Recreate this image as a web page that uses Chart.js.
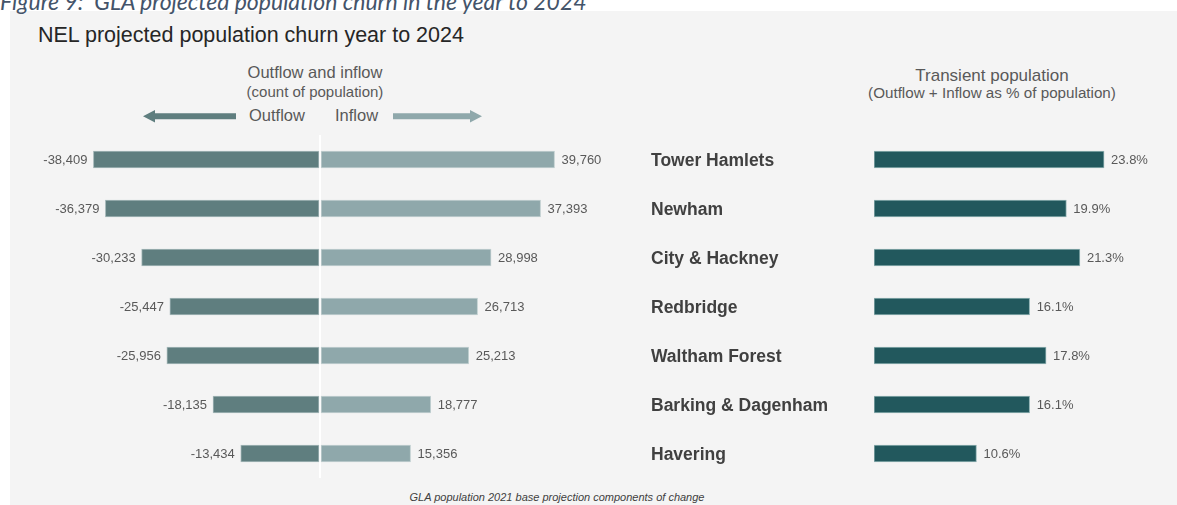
<!DOCTYPE html>
<html>
<head>
<meta charset="utf-8">
<script src="https://cdn.jsdelivr.net/npm/chart.js@4.4.1/dist/chart.umd.min.js"></script>
<style>
  html, body { margin: 0; padding: 0; background: #ffffff; }
  #page { position: relative; width: 1177px; height: 505px; overflow: hidden; font-family: 'Liberation Sans', Arial, sans-serif; }
  #panel { position: absolute; left: 10px; top: 11px; right: 0; bottom: 0; background: #f4f4f4; }
  .txt { position: absolute; white-space: pre; line-height: 1; }
  .ctr { text-align: center; }
  #caption { left: 0; top: -12.6px; font: italic 23px Lato, sans-serif; color: #44546a; }
  #title { left: 38px; top: 24.8px; font-size: 21.5px; color: #262626; }
  #hdrL { left: 215px; width: 200px; top: 64.3px; font-size: 16.5px; color: #595959; }
  #subL { left: 215px; width: 200px; top: 83.8px; font-size: 15px; color: #595959; }
  #lgOut { left: 249px; top: 106.7px; font-size: 16.5px; color: #595959; }
  #lgIn { left: 335px; top: 106.7px; font-size: 16.5px; color: #595959; }
  #hdrR { left: 842px; width: 300px; top: 66.6px; font-size: 17px; color: #595959; }
  #subR { left: 842px; width: 300px; top: 84.6px; font-size: 15.2px; color: #595959; }
  #source { left: 357px; width: 400px; top: 492.2px; font-size: 11px; font-style: italic; color: #404040; }
  #arrows { position: absolute; left: 0; top: 0; }
  #flowChart { position: absolute; left: 0; top: 135px; }
  #transChart { position: absolute; left: 640px; top: 135px; }
</style>
</head>
<body>
<div id="page">
  <div id="panel"></div>
  <div class="txt" id="caption">Figure 9:  GLA projected population churn in the year to 2024</div>
  <div class="txt" id="title">NEL projected population churn year to 2024</div>
  <div class="txt ctr" id="hdrL">Outflow and inflow</div>
  <div class="txt ctr" id="subL">(count of population)</div>
  <div class="txt" id="lgOut">Outflow</div>
  <div class="txt" id="lgIn">Inflow</div>
  <svg id="arrows" width="1177" height="140">
    <polygon points="143,116.3 155,110 155,113.3 236,113.3 236,119.3 155,119.3 155,122.6" fill="#5f7e7f"/>
    <polygon points="482,116.3 470,110 470,113.3 393,113.3 393,119.3 470,119.3 470,122.6" fill="#8fa8ab"/>
  </svg>
  <div class="txt ctr" id="hdrR">Transient population</div>
  <div class="txt ctr" id="subR">(Outflow + Inflow as % of population)</div>
  <canvas id="flowChart" width="640" height="343"></canvas>
  <canvas id="transChart" width="537" height="343"></canvas>
  <div class="txt ctr" id="source">GLA population 2021 base projection components of change</div>
</div>

<script>
const boroughs = ['Tower Hamlets', 'Newham', 'City & Hackney', 'Redbridge', 'Waltham Forest', 'Barking & Dagenham', 'Havering'];
const outflow = [-38409, -36379, -30233, -25447, -25956, -18135, -13434];
const inflow = [39760, 37393, 28998, 26713, 25213, 18777, 15356];
const transientPct = [23.8, 19.9, 21.3, 16.1, 17.8, 16.1, 10.6];

const labelFont = "13px 'Liberation Sans', Arial, sans-serif";
const labelColor = '#595959';

// draws the value next to the end of each bar
function barLabels(format) {
  return {
    id: 'barLabels',
    afterDatasetsDraw(chart) {
      const ctx = chart.ctx;
      ctx.save();
      ctx.font = labelFont;
      ctx.fillStyle = labelColor;
      ctx.textBaseline = 'middle';
      chart.data.datasets.forEach((ds, i) => {
        chart.getDatasetMeta(i).data.forEach((bar, j) => {
          const v = ds.data[j];
          ctx.textAlign = v < 0 ? 'right' : 'left';
          ctx.fillText(format(v), bar.x + (v < 0 ? -6 : 7), bar.y + 1);
        });
      });
      ctx.restore();
    }
  };
}

const fmtCount = v => v.toLocaleString('en-US');
const fmtPct = v => v.toFixed(1) + '%';

new Chart(document.getElementById('flowChart'), {
  type: 'bar',
  data: {
    labels: boroughs,
    datasets: [
      { label: 'Outflow', data: outflow, backgroundColor: '#5f7e7f', borderColor: '#a5b8b9', borderWidth: 1, borderSkipped: false },
      { label: 'Inflow', data: inflow, backgroundColor: '#8fa8ab', borderColor: '#c3d1d2', borderWidth: 1, borderSkipped: false }
    ]
  },
  options: {
    indexAxis: 'y',
    responsive: false,
    animation: false,
    events: [],
    layout: { padding: { left: 84, right: 84, top: 0, bottom: 0 } },
    datasets: { bar: { barThickness: 17 } },
    plugins: { legend: { display: false }, tooltip: { enabled: false } },
    scales: {
      x: {
        stacked: true,
        min: -40000,
        max: 40000,
        z: 1,
        ticks: { display: false, stepSize: 40000 },
        border: { display: false },
        grid: {
          drawTicks: false,
          lineWidth: 2,
          color: c => (c.tick && c.tick.value === 0 ? '#ffffff' : 'rgba(0,0,0,0)')
        },
        afterFit: s => { s.height = 0; }
      },
      y: { stacked: true, display: false }
    }
  },
  plugins: [barLabels(fmtCount)]
});

new Chart(document.getElementById('transChart'), {
  type: 'bar',
  data: {
    labels: boroughs,
    datasets: [
      { label: 'Transient population', data: transientPct, backgroundColor: '#22585d', borderColor: '#8fb0b2', borderWidth: 1, borderSkipped: false }
    ]
  },
  options: {
    indexAxis: 'y',
    responsive: false,
    animation: false,
    events: [],
    layout: { padding: { left: 11, right: 13, top: 0, bottom: 0 } },
    datasets: { bar: { barThickness: 17 } },
    plugins: { legend: { display: false }, tooltip: { enabled: false } },
    scales: {
      x: { min: 0, max: 30, display: false },
      y: {
        grid: { display: false },
        border: { display: false },
        ticks: {
          crossAlign: 'far',
          padding: 0,
          labelOffset: 2,
          autoSkip: false,
          color: '#404040',
          font: { family: "'Liberation Sans', Arial, sans-serif", size: 17.5, weight: 'bold' }
        },
        afterFit: s => {
          s.width = 223;
          s.paddingTop = 0;
          s.paddingBottom = 0;
        }
      }
    }
  },
  plugins: [barLabels(fmtPct)]
});
</script>
</body>
</html>
